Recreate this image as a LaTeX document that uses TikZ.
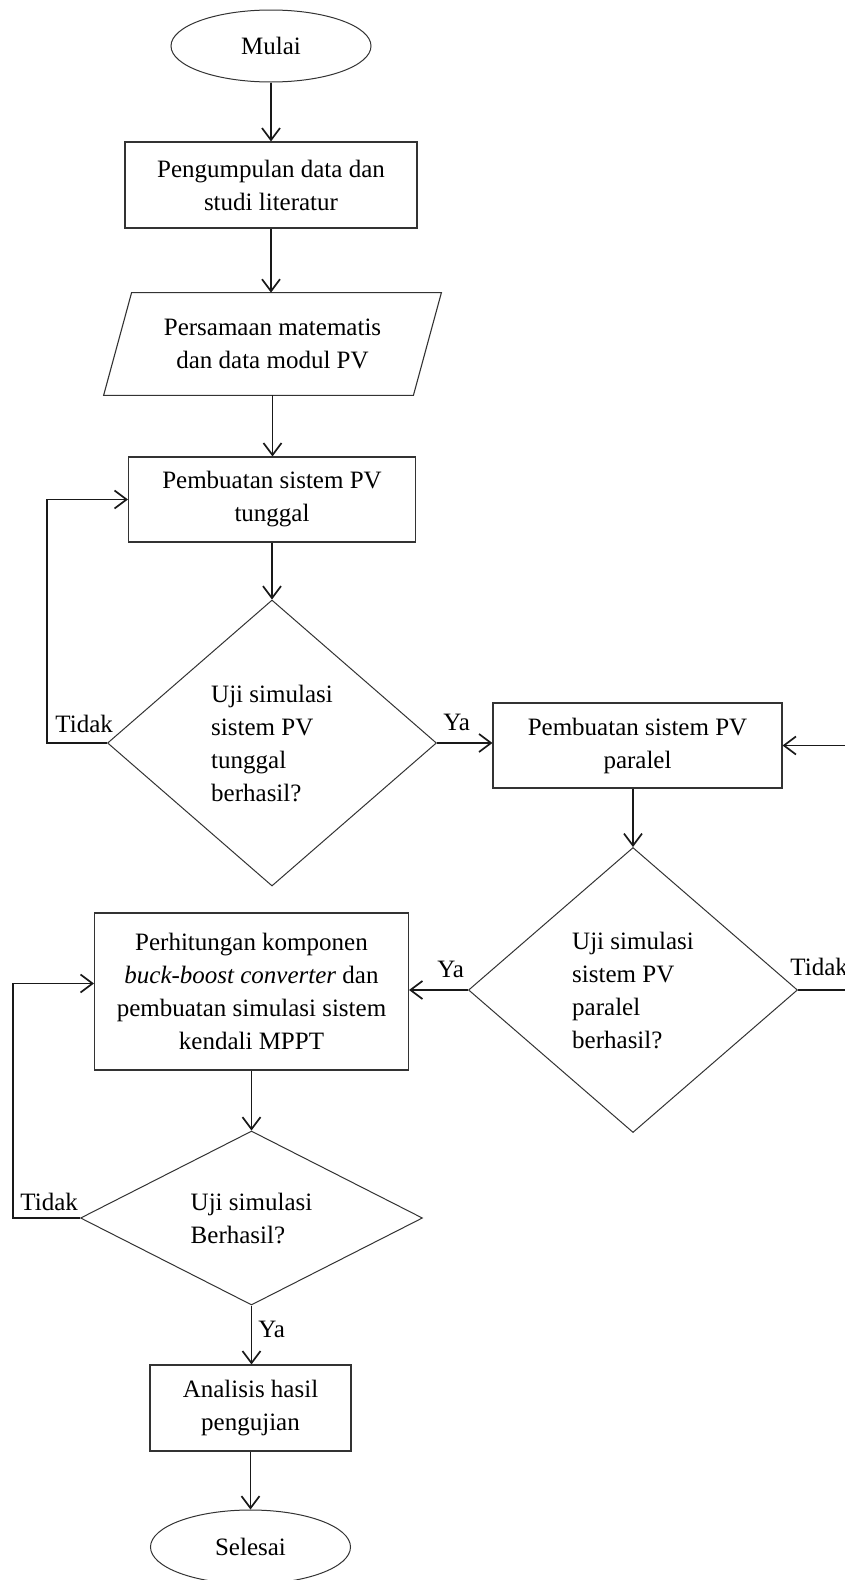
\documentclass[tikz,border=0pt]{standalone}
\usepackage{fontspec}
\setmainfont{Liberation Serif}
\usetikzlibrary{shapes.geometric,arrows.meta}
\tikzset{
  base/.style={font=\fontsize{12.5}{16.5}\selectfont, inner sep=0pt, text=black},
  term/.style={base, ellipse, draw=black!80, line width=0.5pt},
  procbox/.style={base, rectangle, draw=black!80, line width=0.55pt, align=center},
  iobox/.style={base, rectangle, align=center},
  dec/.style={base, diamond, draw=black!80, line width=0.5pt, align=left},
  arr/.style={draw=black!90, line width=0.85pt, -{Straight Barb[length=6pt,width=9pt]}},
  lbl/.style={base, anchor=base west}
}
\begin{document}
\begin{tikzpicture}[x=0.5pt,y=-0.5pt]
\useasboundingbox (0,0) rectangle (845,1580);
\fill[white] (0,0) rectangle (845,1580);

% nodes
\node[term, minimum width=100pt, minimum height=36pt] (start) at (271,46) {Mulai};
\node[procbox, minimum width=146pt, minimum height=43pt] (box1) at (271,185) {Pengumpulan data dan\\studi literatur};
\node[iobox, minimum width=154.5pt, minimum height=51pt] (para) at (272.5,344) {Persamaan matematis\\dan data modul PV};
\draw[draw=black!80, line width=0.55pt] ([xshift=7pt]para.north west) -- ([xshift=7pt]para.north east) -- ([xshift=-7pt]para.south east) -- ([xshift=-7pt]para.south west) -- cycle;
\node[procbox, minimum width=143.5pt, minimum height=42.5pt] (box2) at (272,499.5) {Pembuatan sistem PV\\tunggal};
\node[dec, minimum width=164.5pt, minimum height=143pt] (dia1) at (272,743) {Uji simulasi\\sistem PV\\tunggal\\berhasil?};
\node[procbox, minimum width=144.5pt, minimum height=42.5pt] (box3) at (637.5,745.5) {Pembuatan sistem PV\\paralel};
\node[dec, minimum width=164.5pt, minimum height=142.5pt] (dia2) at (633,990) {Uji simulasi\\sistem PV\\paralel\\berhasil?};
\node[procbox, minimum width=157pt, minimum height=78.5pt] (box4) at (251.5,991.5) {Perhitungan komponen\\\textit{buck-boost converter} dan\\pembuatan simulasi sistem\\kendali MPPT};
\node[dec, minimum width=171pt, minimum height=87pt] (dia3) at (251.5,1218) {Uji simulasi\\Berhasil?};
\node[procbox, minimum width=100.5pt, minimum height=43pt] (box5) at (250.5,1408) {Analisis hasil\\pengujian};
\node[term, minimum width=100pt, minimum height=37pt] (stop) at (250.5,1547) {Selesai};

% labels
\node[lbl] (t1) at (55,732) {Tidak};
\node[lbl] (y1) at (443,730) {Ya};
\node[lbl] (t2) at (790,975) {Tidak};
\node[lbl] (y2) at (437,977) {Ya};
\node[lbl] (t3) at (20,1210) {Tidak};
\node[lbl] (y3) at (258,1337) {Ya};

% connectors
\draw[arr] (start.south) -- (start.south |- box1.north);
\draw[arr] (box1.south) -- (box1.south |- para.north);
\draw[arr] (para.south) -- (para.south |- box2.north);
\draw[arr] (box2.south) -- (box2.south |- dia1.north);
\draw[arr] (dia1.west) -- ++(-60,0) |- (box2.west);
\draw[arr] (dia1.east) -- (dia1.east -| box3.west);
\draw[arr] (dia2 |- box3.south) -- (dia2.north);
\draw[arr] (dia2.east) -- (870,990) |- (box3.east);
\draw[arr] (dia2.west) -- (dia2.west -| box4.east);
\draw[arr] (box4.south) -- (box4.south |- dia3.north);
\draw[arr] (dia3.west) -- ++(-67,0) |- ([yshift=4pt]box4.west);
\draw[arr] (dia3.south) -- (dia3.south |- box5.north);
\draw[arr] (box5.south) -- (box5.south |- stop.north);
\end{tikzpicture}
\end{document}
